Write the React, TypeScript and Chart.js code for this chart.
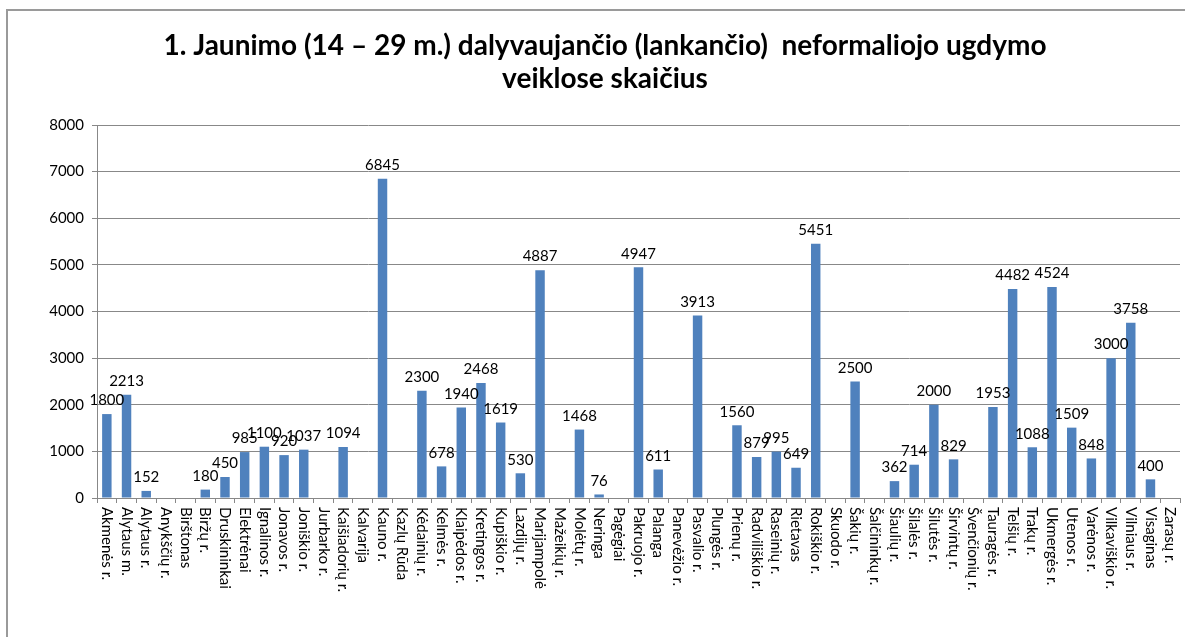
import React, { useEffect, useRef } from "react";
import { Chart, registerables } from "chart.js";

Chart.register(...registerables);

const titleLines = [
  "1. Jaunimo (14 – 29 m.) dalyvaujančio (lankančio)  neformaliojo ugdymo",
  "veiklose skaičius",
];

const categories = [
  "Akmenės r.", "Alytaus m.", "Alytaus r.", "Anykščių r.", "Birštonas", "Biržų r.",
  "Druskininkai", "Elektrėnai", "Ignalinos r.", "Jonavos r.", "Joniškio r.", "Jurbarko r.",
  "Kaišiadorių r.", "Kalvarija", "Kauno r.", "Kazlų Rūda", "Kėdainių r.", "Kelmės r.",
  "Klaipėdos r.", "Kretingos r.", "Kupiškio r.", "Lazdijų r.", "Marijampolė", "Mažeikių r.",
  "Molėtų r.", "Neringa", "Pagėgiai", "Pakruojo r.", "Palanga", "Panevėžio r.",
  "Pasvalio r.", "Plungės r.", "Prienų r.", "Radviliškio r.", "Raseinių r.", "Rietavas",
  "Rokiškio r.", "Skuodo r.", "Šakių r.", "Šalčininkų r.", "Šiaulių r.", "Šilalės r.",
  "Šilutės r.", "Širvintų r.", "Švenčionių r.", "Tauragės r.", "Telšių r.", "Trakų r.",
  "Ukmergės r.", "Utenos r.", "Varėnos r.", "Vilkaviškio r.", "Vilniaus r.", "Visaginas",
  "Zarasų r.",
];

const values: (number | null)[] = [
  1800, 2213, 152, null, null, 180,
  450, 985, 1100, 920, 1037, null,
  1094, null, 6845, null, 2300, 678,
  1940, 2468, 1619, 530, 4887, null,
  1468, 76, null, 4947, 611, null,
  3913, null, 1560, 879, 995, 649,
  5451, null, 2500, null, 362, 714,
  2000, 829, null, 1953, 4482, 1088,
  4524, 1509, 848, 3000, 3758, 400,
  null,
];

const yTicks = [0, 1000, 2000, 3000, 4000, 5000, 6000, 7000, 8000];

const FONT = "Lato, 'Open Sans', sans-serif";

export default function App() {
  const ref = useRef<HTMLCanvasElement | null>(null);

  useEffect(() => {
    if (!ref.current) return;

    const overlay = {
      id: "overlay",
      afterDraw(chart: any) {
        const ctx = chart.ctx;
        // title
        ctx.save();
        ctx.fillStyle = "#000";
        ctx.font = `bold 28px ${FONT}`;
        ctx.textAlign = "center";
        ctx.textBaseline = "middle";
        ctx.fillText(titleLines[0], 605, 46);
        ctx.fillText(titleLines[1], 605, 79);
        ctx.restore();

        // x labels rotated clockwise
        const xs = chart.scales.x;
        const top = chart.chartArea.bottom + 9;
        ctx.save();
        ctx.fillStyle = "#000";
        ctx.font = `15px ${FONT}`;
        ctx.textAlign = "left";
        ctx.textBaseline = "middle";
        categories.forEach((c, i) => {
          const x = xs.getPixelForTick(i);
          ctx.save();
          ctx.translate(x, top);
          ctx.rotate(Math.PI / 2);
          ctx.fillText(c, 0, 0);
          ctx.restore();
        });
        ctx.restore();

        // data labels
        const meta = chart.getDatasetMeta(0);
        ctx.save();
        ctx.fillStyle = "#000";
        ctx.font = `15px ${FONT}`;
        ctx.textAlign = "center";
        ctx.textBaseline = "bottom";
        meta.data.forEach((el: any, i: number) => {
          const v = values[i];
          if (v === null || v === undefined) return;
          ctx.fillText(String(v), el.x, el.y - 6);
        });
        ctx.restore();
      },
    };

    const chart = new Chart(ref.current, {
      type: "bar",
      data: {
        labels: categories,
        datasets: [
          {
            data: values,
            backgroundColor: "#4F81BD",
            borderWidth: 0,
            barPercentage: 0.48,
            categoryPercentage: 1,
          },
        ],
      },
      options: {
        responsive: false,
        animation: false,
        layout: { padding: { top: 125, left: 0, right: 5, bottom: 0 } },
        plugins: {
          legend: { display: false },
          title: { display: false },
          tooltip: { enabled: false },
        },
        scales: {
          x: {
            grid: {
              offset: true,
              drawOnChartArea: false,
              drawTicks: true,
              tickLength: 5,
              color: "#888",
            },
            border: { color: "#888" },
            ticks: { display: false },
            afterFit(scale: any) {
              scale.height = 139;
            },
          },
          y: {
            min: 0,
            max: 8000,
            afterBuildTicks(scale: any) {
              scale.ticks = yTicks.map((v) => ({ value: v }));
            },
            grid: {
              color: "#888",
              drawTicks: true,
              tickLength: 5,
            },
            border: { color: "#888" },
            ticks: {
              color: "#000",
              font: { family: FONT, size: 15 },
              padding: 8,
              callback: (v: any) => String(v),
            },
            afterFit(scale: any) {
              scale.width = 97;
            },
          },
        },
      },
      plugins: [overlay],
    });

    return () => chart.destroy();
  }, []);

  return (
    <div
      style={{
        position: "fixed",
        left: 0,
        top: 0,
        width: 1185,
        height: 637,
        overflow: "hidden",
        background: "#fff",
      }}
    >
      <div
        style={{
          position: "absolute",
          left: 6,
          top: 9,
          width: 1200,
          height: 700,
          borderLeft: "2px solid #9a9a9a",
          borderTop: "2px solid #9a9a9a",
        }}
      />
      <canvas
        ref={ref}
        width={1185}
        height={637}
        style={{ position: "absolute", left: 0, top: 0 }}
      />
    </div>
  );
}
